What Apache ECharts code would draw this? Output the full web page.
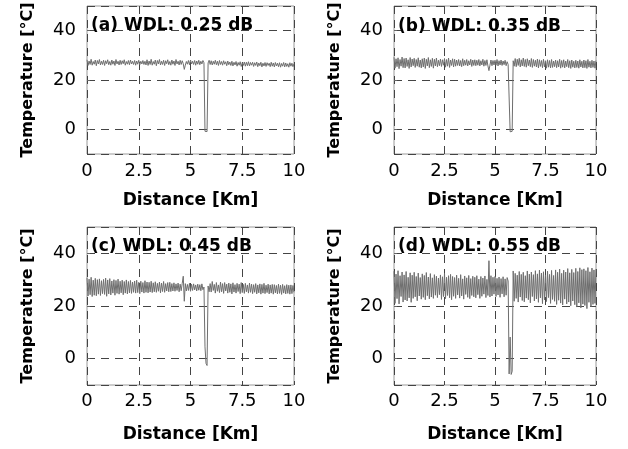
<!DOCTYPE html>
<html>
<head>
<meta charset="utf-8">
<script src="https://cdn.jsdelivr.net/npm/echarts@6/dist/echarts.min.js"></script>
<style>
html,body{margin:0;padding:0;background:#fff;}
#chart{width:628px;height:449px;}
</style>
</head>
<body>
<div id="chart"></div>
<script>
// Distance samples [Km]
var distanceKm = [
  0,0.05,0.1,0.15,0.2,0.25,0.3,0.35,0.4,0.45,0.5,0.55,0.6,0.65,0.7,0.75,0.8,0.85,0.9,0.95,
  1,1.05,1.1,1.15,1.2,1.25,1.3,1.35,1.4,1.45,1.5,1.55,1.6,1.65,1.7,1.75,1.8,1.85,1.9,1.95,
  2,2.05,2.1,2.15,2.2,2.25,2.3,2.35,2.4,2.45,2.5,2.55,2.6,2.65,2.7,2.75,2.8,2.85,2.9,2.95,
  3,3.05,3.1,3.15,3.2,3.25,3.3,3.35,3.4,3.45,3.5,3.55,3.6,3.65,3.7,3.75,3.8,3.85,3.9,3.95,
  4,4.05,4.1,4.15,4.2,4.25,4.3,4.35,4.4,4.45,4.5,4.55,4.6,4.65,4.7,4.75,4.8,4.85,4.9,4.95,
  5,5.05,5.1,5.15,5.2,5.25,5.3,5.35,5.4,5.45,5.5,5.55,5.6,5.65,5.7,5.75,5.8,5.85,5.9,5.95,
  6,6.05,6.1,6.15,6.2,6.25,6.3,6.35,6.4,6.45,6.5,6.55,6.6,6.65,6.7,6.75,6.8,6.85,6.9,6.95,
  7,7.05,7.1,7.15,7.2,7.25,7.3,7.35,7.4,7.45,7.5,7.55,7.6,7.65,7.7,7.75,7.8,7.85,7.9,7.95,
  8,8.05,8.1,8.15,8.2,8.25,8.3,8.35,8.4,8.45,8.5,8.55,8.6,8.65,8.7,8.75,8.8,8.85,8.9,8.95,
  9,9.05,9.1,9.15,9.2,9.25,9.3,9.35,9.4,9.45,9.5,9.55,9.6,9.65,9.7,9.75,9.8,9.85,9.9,9.95,
  10
];

// (a) WDL 0.25 dB
var tempA = [
  28.2,25.9,27.7,26.3,28.4,26.0,27.5,26.4,28.1,25.8,27.9,26.5,28.3,26.1,27.6,26.3,28.0,25.9,27.8,26.6,
  28.2,26.2,27.5,26.0,28.1,26.4,27.7,25.9,28.3,26.5,27.6,26.1,28.0,26.3,27.8,26.6,28.2,26.0,27.5,26.4,
  27.9,26.2,28.1,26.5,27.6,26.3,27.9,26.0,27.7,26.4,28.0,26.2,27.6,26.5,27.9,26.3,27.6,26.1,28.2,25.9,
  27.7,26.3,28.4,26.0,27.5,26.4,28.1,25.8,27.9,26.5,28.3,26.1,27.6,26.3,28.0,25.9,27.8,26.6,28.2,26.2,
  27.5,26.0,28.1,26.4,27.7,25.9,28.3,26.5,27.6,26.1,28.0,26.3,27.8,26.6,24.3,26.0,27.5,26.4,27.9,26.2,
  28.1,26.5,27.6,26.3,27.9,26.0,27.7,26.4,28.0,26.2,27.6,26.5,27.9,27.0,-0.8,-1.4,-0.9,26.9,28.0,26.3,
  27.8,26.1,27.6,26.4,28.0,26.2,27.6,25.9,27.9,26.3,27.5,26.0,27.8,26.4,27.4,25.8,27.7,26.2,27.3,25.9,
  27.6,25.7,27.2,26.1,27.5,25.6,27.1,26.0,27.4,25.5,27.0,25.9,27.3,25.6,27.2,25.8,27.4,25.7,27.1,26.0,
  27.2,25.5,27.0,25.9,27.3,25.4,26.9,25.8,27.2,25.3,26.8,25.7,27.1,25.5,27.0,25.9,26.8,25.4,27.2,25.6,
  26.9,25.3,27.1,25.7,26.8,25.4,27.0,25.2,26.7,25.6,27.1,25.3,26.9,25.5,26.6,25.2,27.0,25.6,26.8,25.4,
  26.6
];

// (b) WDL 0.35 dB
var tempB = [
  29.2,24.8,28.6,25.4,29.0,24.6,28.3,25.6,29.3,25.0,28.7,24.9,28.9,25.5,28.2,24.7,29.1,25.3,28.5,25.8,
  28.8,25.1,28.3,25.6,29.0,25.2,28.1,24.9,28.6,25.3,28.9,24.7,28.4,25.7,29.1,25.0,28.2,25.5,28.8,24.8,
  28.4,25.7,28.9,25.4,28.0,25.8,28.5,25.5,28.2,26.0,28.7,25.2,28.3,25.6,28.9,25.1,28.1,25.9,28.6,25.3,
  28.4,25.6,28.1,25.9,28.3,25.7,27.9,25.4,28.6,25.8,28.0,26.0,28.3,25.7,27.8,26.1,28.4,25.5,28.1,25.9,
  28.2,25.8,28.0,26.0,28.3,25.7,27.8,26.1,28.4,25.6,27.9,25.9,28.2,25.7,23.8,26.0,28.1,25.8,27.9,26.1,
  28.0,26.0,28.3,25.7,27.8,26.1,28.1,25.9,27.7,26.2,28.0,25.8,27.4,26.3,27.0,-1.0,-1.4,-0.8,27.8,25.6,
  28.7,25.4,28.4,25.9,28.8,25.3,28.2,25.7,28.9,25.5,28.3,25.2,28.6,25.8,28.1,25.4,28.7,25.1,28.3,25.6,
  28.0,25.3,28.5,24.9,28.2,25.5,27.9,25.0,28.4,25.3,27.8,24.8,28.2,25.2,27.9,24.9,28.3,25.1,27.7,25.4,
  28.1,25.0,27.8,25.3,28.4,24.8,27.9,25.2,28.2,24.9,27.7,25.4,28.3,25.0,27.8,24.7,28.1,25.2,27.6,24.9,
  28.0,25.1,27.7,24.8,28.2,25.3,27.6,24.9,28.1,25.0,27.8,24.7,28.3,25.2,27.6,24.9,28.0,25.1,27.7,24.8,
  27.9
];

// (c) WDL 0.45 dB
var tempC = [
  30.7,23.8,30.2,24.3,30.9,23.6,29.8,24.1,30.5,23.9,30.0,24.5,30.3,24.0,29.6,24.7,30.1,24.4,30.6,23.7,
  29.9,24.6,30.4,24.2,29.5,24.9,30.0,24.1,29.7,24.8,30.2,24.5,29.4,25.0,29.8,24.3,29.3,24.9,29.9,24.6,
  29.3,25.0,29.7,24.8,29.1,25.2,29.5,24.9,29.8,25.1,29.0,24.7,29.4,25.3,28.9,24.9,29.6,25.2,29.1,25.0,
  29.0,25.3,29.4,25.1,28.8,25.4,29.2,25.2,28.6,25.6,29.1,25.0,28.7,25.5,29.3,25.2,28.5,25.7,28.9,25.4,
  29.0,25.5,28.5,25.7,28.8,25.6,28.4,25.9,28.7,25.4,28.3,25.8,28.6,31.3,21.8,28.5,25.7,28.2,25.9,28.6,
  25.6,28.3,25.9,28.4,26.1,28.0,25.7,28.3,26.0,28.1,25.8,28.4,26.2,27.2,4.5,-1.8,-2.6,27.6,25.4,28.5,
  25.3,29.3,25.9,28.2,24.9,28.9,25.6,28.0,25.1,29.1,25.4,28.5,24.8,28.9,25.7,28.3,24.9,28.7,25.2,28.4,
  24.6,28.8,25.3,28.1,24.9,28.6,25.5,28.3,24.7,28.9,25.1,28.2,24.8,28.6,25.4,28.0,24.9,28.7,25.2,28.3,
  24.7,28.1,25.2,28.5,24.6,28.0,25.0,28.4,24.5,28.2,24.9,28.6,24.7,27.9,25.1,28.3,24.6,28.0,24.9,28.2,
  24.5,28.1,25.0,27.8,24.6,28.3,24.8,27.9,24.4,28.2,24.9,27.7,24.6,28.1,24.8,27.9,24.5,28.0,24.7,27.8,
  25.2
];

// (d) WDL 0.55 dB
var tempD = [
  33.2,21.0,32.1,22.8,33.4,20.8,31.5,23.6,32.9,21.5,31.8,22.3,33.1,21.9,30.9,23.1,32.6,21.4,31.7,22.9,
  32.8,23.5,31.2,22.0,32.5,23.8,30.8,22.6,32.2,23.3,31.6,22.4,32.7,23.9,31.0,22.7,32.3,23.4,30.7,22.9,
  31.9,24.1,31.3,23.2,30.6,24.3,31.8,22.5,31.1,23.6,32.4,22.8,30.9,24.0,31.5,23.1,32.0,22.4,31.2,23.7,
  30.8,22.9,31.7,24.2,30.5,23.0,31.9,23.8,30.3,22.6,31.4,24.4,30.7,23.3,31.6,22.8,30.4,24.0,31.3,23.5,
  30.9,23.1,31.5,24.3,30.2,22.9,31.2,23.7,30.6,24.5,31.4,23.2,30.1,24.0,37.2,23.4,31.5,23.8,30.9,24.5,
  31.2,23.6,30.5,24.2,31.0,23.3,30.4,24.6,31.1,23.5,30.3,24.1,30.8,29.5,-5.8,8.2,-6.0,-4.8,33.3,21.8,
  32.4,22.9,31.7,21.5,33.1,23.4,32.0,22.1,32.8,21.6,31.5,23.0,33.3,22.4,32.1,21.2,32.9,23.6,31.9,21.9,
  33.4,22.7,32.2,21.4,33.6,23.1,32.5,20.9,33.0,22.3,31.8,21.7,33.2,23.2,32.0,21.0,33.5,22.5,31.6,21.8,
  33.7,20.6,32.8,22.2,34.0,21.1,32.4,20.4,33.6,22.6,32.9,20.8,34.2,21.5,32.6,20.1,33.9,21.9,32.7,20.5,
  34.3,19.6,33.1,21.2,34.5,19.3,33.8,20.7,34.1,20.2,33.4,19.0,34.6,21.4,33.0,19.8,34.4,20.6,33.7,21.0,
  34.0
];

var panelTitles = ['(a) WDL: 0.25 dB', '(b) WDL: 0.35 dB', '(c) WDL: 0.45 dB', '(d) WDL: 0.55 dB'];
var xTickLabels = [0, 2.5, 5, 7.5, 10];
var yTickLabels = [0, 20, 40];
var xName = 'Distance [Km]';
var yName = 'Temperature [°C]';

var series = [tempA, tempB, tempC, tempD];

var grids = [
  {left: 87, top: 6, width: 207, height: 148},
  {left: 394, top: 6, width: 202, height: 148},
  {left: 87, top: 227, width: 207, height: 158},
  {left: 394, top: 227, width: 202, height: 158}
];
var titlePos = [
  {left: 91, top: 17},
  {left: 398, top: 18},
  {left: 91, top: 238},
  {left: 398, top: 238}
];
var xNameGap = [38, 38, 41, 41];
var xLabelMargin = [8, 8, 7, 7];

var labelFont = {color: '#000', fontSize: 18, fontFamily: 'DejaVu Sans'};
var nameFontX = {color: '#000', fontSize: 17, fontWeight: 'bold', fontFamily: 'DejaVu Sans'};
var nameFontY = {color: '#000', fontSize: 16, fontWeight: 'bold', fontFamily: 'DejaVu Sans'};
var splitStyle = {show: true, lineStyle: {color: '#444', width: 1, type: [8, 6]}};

var option = {
  animation: false,
  backgroundColor: '#fff',
  title: panelTitles.map(function (t, i) {
    return {
      text: t, left: titlePos[i].left, top: titlePos[i].top, padding: 0,
      textStyle: {color: '#000', fontSize: 17, fontWeight: 'bold', fontFamily: 'DejaVu Sans'}
    };
  }),
  grid: grids.map(function (g) {
    return Object.assign({show: true, borderColor: '#9a9a9a', borderWidth: 1, backgroundColor: 'transparent', containLabel: false}, g);
  }),
  xAxis: grids.map(function (g, i) {
    return {
      type: 'value', gridIndex: i, min: 0, max: 10, interval: 2.5,
      axisLine: {show: false}, axisTick: {show: false},
      axisLabel: Object.assign({
        margin: xLabelMargin[i],
        formatter: function (v) {
          return xTickLabels.indexOf(v) >= 0 ? String(v) : '';
        }
      }, labelFont),
      splitLine: splitStyle,
      name: xName, nameLocation: 'middle', nameGap: xNameGap[i], nameTextStyle: nameFontX
    };
  }),
  yAxis: grids.map(function (g, i) {
    return {
      type: 'value', gridIndex: i, min: -10, max: 50, splitNumber: 3,
      axisLine: {show: false},
      axisTick: {show: true, inside: true, length: 3, lineStyle: {color: '#666'}},
      axisLabel: Object.assign({
        margin: 11, showMinLabel: false, showMaxLabel: false,
        formatter: function (v) {
          return yTickLabels.indexOf(v) >= 0 ? String(v) : '';
        }
      }, labelFont),
      splitLine: splitStyle,
      name: yName, nameLocation: 'middle', nameGap: 51, nameTextStyle: nameFontY
    };
  }),
  series: series.map(function (vals, i) {
    return {
      type: 'line', xAxisIndex: i, yAxisIndex: i,
      showSymbol: false, symbol: 'none', silent: true,
      lineStyle: {color: '#6e6e6e', width: 1},
      data: vals.map(function (v, k) { return [distanceKm[k], v]; })
    };
  })
};

var chart = echarts.init(document.getElementById('chart'), null, {renderer: 'canvas'});
chart.setOption(option);
</script>
</body>
</html>
